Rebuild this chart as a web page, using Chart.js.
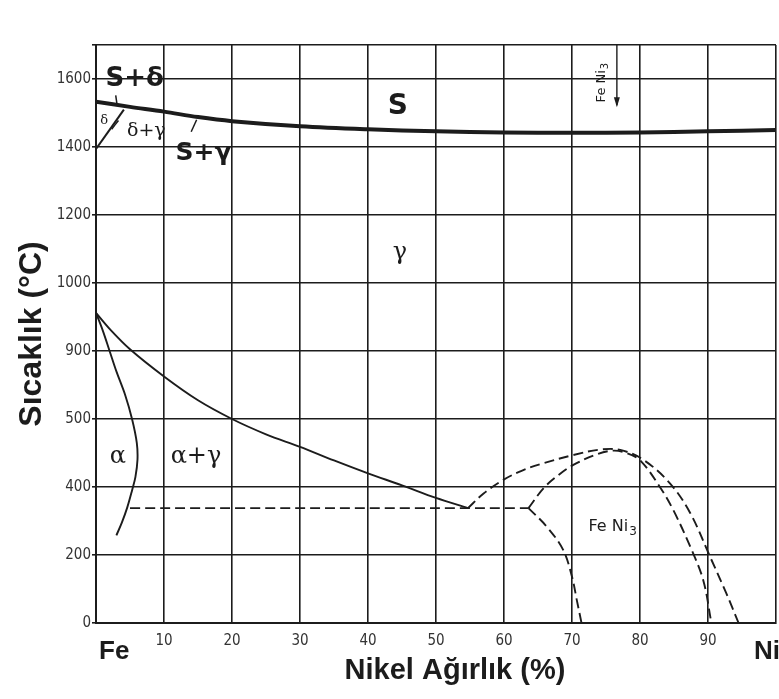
<!DOCTYPE html>
<html lang="tr">
<head>
<meta charset="utf-8">
<title>Fe-Ni Faz Diyagramı</title>
<script src="https://cdn.jsdelivr.net/npm/chart.js@4.4.1/dist/chart.umd.min.js"></script>
<style>
    html, body { margin: 0; padding: 0; background: #fff; }
    canvas { display: block; }
</style>
</head>
<body>
<canvas id="feNiChart" width="779" height="699"></canvas>
<script>
// axis ticks
const xTicks = [0, 10, 20, 30, 40, 50, 60, 70, 80, 90, 100];
const yTicks = [0, 200, 400, 600, 800, 1000, 1200, 1400, 1600, 1700];
const yTickText = ['0', '200', '400', '500', '900', '1000', '1200', '1400', '1600', ''];

// phase boundaries, [Ni %, °C]
const liquidus = [[0, 1533], [5, 1518], [10, 1504], [15, 1488], [20, 1476], [30, 1461], [40, 1452],
    [50, 1446], [60, 1443], [70, 1442], [80, 1443], [90, 1446], [100, 1450]];
const deltaGamma = [[0, 1394], [4.1, 1510]];
const gammaSolvus = [[0, 912], [2, 865], [5, 805], [10, 725], [15, 655], [20, 600], [25, 555],
    [30, 518], [35, 478], [40, 440], [45, 405], [50, 368], [54.7, 338]];
const alphaSolvus = [[0, 912], [1, 860], [2, 800], [3, 740], [4.3, 670], [5.3, 600], [6, 530],
    [6.1, 480], [5.8, 430], [5.3, 390], [4.6, 340], [3.8, 295], [3, 258]];
const eutectoid = [[5, 338], [63.6, 338]];
const orderOuter = [[54.7, 338], [57, 381], [59.9, 421], [62.5, 447], [65.3, 467], [70.2, 494],
    [74.1, 510], [77.1, 509], [80.5, 480], [84.4, 411], [87.4, 323], [90.3, 195], [92.7, 87], [94.5, 0]];
const orderInner = [[63.6, 338], [65.8, 396], [68, 435], [70.2, 465], [73.6, 496], [76.1, 507],
    [78, 500], [80, 479], [82.9, 401], [84.9, 332], [87.4, 224], [89.3, 126], [90.5, 0]];
const orderLow = [[63.6, 338], [66.3, 283], [68.7, 215], [70, 136], [70.7, 68], [71.4, 0]];

// little pointer strokes from region names to their fields
const leaderSD = [[3.1, 1524], [2.9, 1552]];
const leaderSG = [[14.0, 1445], [14.8, 1480]];
const leaderDG = [[2.3, 1452], [3.3, 1478]];

// region names, placed in data units
const regionLabels = [
    { text: 'S+δ', x: 5.7, y: 1600, font: 'bold 26px "DejaVu Sans"' },
    { text: 'S', x: 44.4, y: 1518, font: 'bold 28px "DejaVu Sans"' },
    { text: 'S+γ', x: 15.8, y: 1380, font: 'bold 25px "DejaVu Sans"' },
    { text: 'δ+γ', x: 7.4, y: 1447, font: '19px "DejaVu Serif"' },
    { text: 'δ', x: 1.2, y: 1478, font: '13px "DejaVu Serif"' },
    { text: 'γ', x: 44.7, y: 1090, font: '24px "DejaVu Serif"' },
    { text: 'α', x: 3.2, y: 488, font: '24px "DejaVu Serif"' },
    { text: 'α+γ', x: 14.7, y: 488, font: '24px "DejaVu Serif"' }
];

const toXY = pts => pts.map(p => ({ x: p[0], y: p[1] }));
const ink = '#1c1c1c';

function curve(data, width, dashed) {
    return {
        data: toXY(data),
        showLine: true,
        borderColor: ink,
        borderWidth: width,
        borderDash: dashed ? [10, 5] : [],
        pointRadius: 0,
        tension: 0.35,
        fill: false
    };
}

// writes "Fe Ni" with a lowered 3
function drawFeNi3(ctx, x, y, size) {
    ctx.font = size + 'px "DejaVu Sans"';
    ctx.textAlign = 'left';
    ctx.textBaseline = 'middle';
    const main = 'Fe Ni';
    const w = ctx.measureText(main).width;
    ctx.font = Math.round(size * 0.75) + 'px "DejaVu Sans"';
    const w3 = ctx.measureText('3').width;
    const left = x - (w + w3) / 2;
    ctx.font = size + 'px "DejaVu Sans"';
    ctx.fillText(main, left, y);
    ctx.font = Math.round(size * 0.75) + 'px "DejaVu Sans"';
    ctx.fillText('3', left + w + 1, y + size * 0.3);
}

const labelPlugin = {
    id: 'phaseLabels',
    afterDatasetsDraw(chart) {
        const { ctx, scales: { x, y } } = chart;
        ctx.save();
        ctx.fillStyle = ink;
        ctx.textAlign = 'center';
        ctx.textBaseline = 'middle';
        regionLabels.forEach(l => {
            ctx.font = l.font;
            ctx.fillText(l.text, x.getPixelForValue(l.x), y.getPixelForValue(l.y));
        });

        // FeNi3 field name
        drawFeNi3(ctx, x.getPixelForValue(75.9), y.getPixelForValue(282), 16);

        // vertical FeNi3 note with arrow down from the top
        const ax = x.getPixelForValue(76.6);
        const aTop = y.getPixelForValue(1700);
        const aEnd = y.getPixelForValue(1523);
        ctx.strokeStyle = ink;
        ctx.lineWidth = 1.4;
        ctx.beginPath();
        ctx.moveTo(ax, aTop);
        ctx.lineTo(ax, aEnd);
        ctx.stroke();
        ctx.beginPath();
        ctx.moveTo(ax, aEnd + 2);
        ctx.lineTo(ax - 3, aEnd - 8);
        ctx.lineTo(ax + 3, aEnd - 8);
        ctx.closePath();
        ctx.fill();
        ctx.save();
        ctx.translate(x.getPixelForValue(74.4), y.getPixelForValue(1588));
        ctx.rotate(-Math.PI / 2);
        drawFeNi3(ctx, 0, 0, 13);
        ctx.restore();

        // element names at the ends of the composition axis
        ctx.font = 'bold 26px "Liberation Sans"';
        ctx.textAlign = 'left';
        ctx.fillText('Fe', x.left + 3, 652);
        ctx.fillText('Ni', 754, 652);

        // composition axis title
        ctx.font = 'bold 29px "Liberation Sans"';
        ctx.textAlign = 'center';
        ctx.fillText('Nikel Ağırlık (%)', 455, 671);
        ctx.restore();
    }
};

document.addEventListener("DOMContentLoaded", function () {
    const ctx = document.getElementById('feNiChart');
    new Chart(ctx, {
        type: 'scatter',
        data: {
            datasets: [
                curve(liquidus, 4, false),
                curve(deltaGamma, 2, false),
                curve(leaderSD, 1.5, false),
                curve(leaderSG, 1.5, false),
                curve(leaderDG, 1.5, false),
                curve(gammaSolvus, 1.9, false),
                curve(alphaSolvus, 1.9, false),
                curve(eutectoid, 1.9, true),
                curve(orderOuter, 1.9, true),
                curve(orderInner, 1.9, true),
                curve(orderLow, 1.9, true)
            ]
        },
        options: {
            responsive: false,
            animation: false,
            devicePixelRatio: 1,
            layout: { padding: { top: 45, right: 3, left: 0, bottom: 0 } },
            plugins: {
                legend: { display: false },
                tooltip: { enabled: false }
            },
            scales: {
                x: {
                    type: 'linear',
                    min: 0,
                    max: 100,
                    afterBuildTicks: scale => { scale.ticks = xTicks.map(v => ({ value: v })); },
                    afterFit: scale => {
                        scale.height = 76;
                        scale.paddingLeft = 0;
                        scale.paddingRight = 0;
                    },
                    grid: { color: ink, lineWidth: 1.6, drawTicks: false },
                    border: { color: ink, width: 2 },
                    ticks: {
                        autoSkip: false,
                        maxRotation: 0,
                        padding: 9,
                        color: '#333',
                        font: { family: '"DejaVu Sans Condensed", "DejaVu Sans"', size: 15 },
                        callback: v => (v === 0 || v === 100) ? '' : v
                    }
                },
                y: {
                    type: 'linear',
                    min: 0,
                    max: 1700,
                    afterBuildTicks: scale => { scale.ticks = yTicks.map(v => ({ value: v })); },
                    afterFit: scale => { scale.width = 96; },
                    grid: { color: ink, lineWidth: 1.6, tickLength: 4 },
                    border: { color: ink, width: 2 },
                    ticks: {
                        autoSkip: false,
                        padding: 1,
                        color: '#333',
                        font: { family: '"DejaVu Sans Condensed", "DejaVu Sans"', size: 15 },
                        callback: (v, i) => yTickText[i]
                    },
                    title: {
                        display: true,
                        text: 'Sıcaklık (°C)',
                        color: ink,
                        font: { family: '"Liberation Sans"', size: 32, weight: 'bold' },
                        padding: { top: 13, bottom: 0 }
                    }
                }
            }
        },
        plugins: [labelPlugin]
    });
});
</script>
</body>
</html>
